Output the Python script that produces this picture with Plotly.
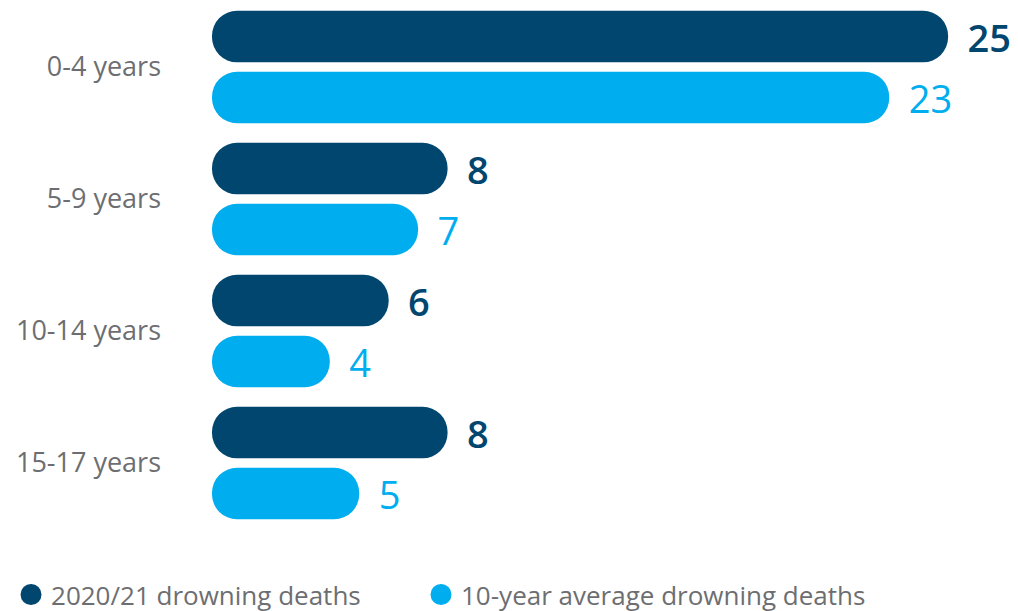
import plotly.graph_objects as go

categories = ["0-4 years", "5-9 years", "10-14 years", "15-17 years"]
deaths_2021 = [25, 8, 6, 8]
avg_10yr = [23, 7, 4, 5]
series_names = ["2020/21 drowning deaths", "10-year average drowning deaths"]
colors = ["#00466E", "#00ADEF"]

FONT = "Open Sans"
fig = go.Figure()

legend_ids = ["legend", "legend2"]
for i, (vals, name, col) in enumerate(zip([deaths_2021, avg_10yr], series_names, colors)):
    fig.add_trace(go.Bar(
        y=categories, x=vals, base=[0] * len(vals),
        orientation="h", offsetgroup=f"g{i}",
        marker=dict(color=col, cornerradius="50%", line=dict(width=0)),
        text=["\u2009\u2009\u200A" + str(v) for v in vals], textposition="outside",
        textfont=dict(family=FONT, size=38, color=col, weight=600 if i == 0 else 400),
        constraintext="none", cliponaxis=False,
        showlegend=False, name=name,
    ))
    fig.add_trace(go.Scatter(
        x=[None], y=[None], mode="markers", name=name, legend=legend_ids[i],
        marker=dict(color=col, size=30, symbol="circle", line=dict(color=col, width=10)),
    ))

legend_common = dict(
    orientation="h", xanchor="left", yanchor="middle", y=-0.111,
    font=dict(family=FONT, size=26, color="#6D6E71"), bgcolor="rgba(0,0,0,0)",
)

fig.update_layout(
    width=1018, height=611,
    margin=dict(l=204, r=19, t=0, b=83, autoexpand=False),
    barmode="group", bargap=0.0758, bargroupgap=0.155,
    plot_bgcolor="white", paper_bgcolor="white",
    xaxis=dict(range=[0, 27], visible=False),
    yaxis=dict(
        categoryorder="array", categoryarray=categories, range=[3.553, -0.447],
        showgrid=False, zeroline=False, showline=False, ticks="",
        ticklabelstandoff=50, automargin=False,
        tickfont=dict(family=FONT, size=27, color="#6D6E71"),
    ),
    legend=dict(x=-0.2528, **legend_common),
    legend2=dict(x=0.2629, **legend_common),
    showlegend=True,
)

fig.write_html("out.html")
